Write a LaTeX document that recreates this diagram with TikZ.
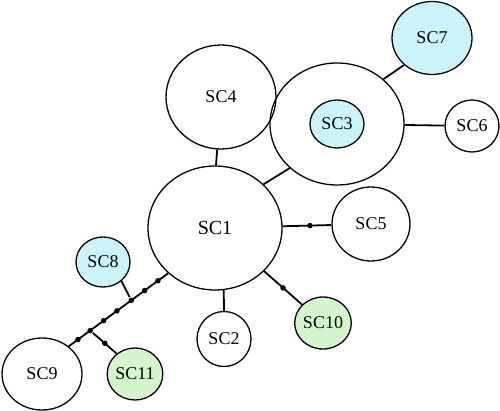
\documentclass[tikz,border=0pt]{standalone}
\usepackage{fontspec}
\setmainfont{Liberation Serif}
\usetikzlibrary{shapes.geometric}
\definecolor{lcyan}{RGB}{202,244,250}
\definecolor{lgreen}{RGB}{212,246,204}
\begin{document}
\begin{tikzpicture}[x=1pt,y=-1pt,
  blob/.style={ellipse,draw,line width=1.3pt,inner sep=0pt,font=\fontsize{18}{20}\selectfont},
  link/.style={line width=1.8pt},
  dot/.style={circle,fill,inner sep=0pt,minimum size=5.5pt}]
\useasboundingbox (0,0) rectangle (500,411);
\node[blob,minimum width=134pt,minimum height=124pt,font=\fontsize{20}{22}\selectfont] (sc1) at (215,228) {SC1};
\node[blob,minimum width=110pt,minimum height=104pt] (sc4) at (221,97) {SC4};
\node[blob,minimum width=134pt,minimum height=122pt] (sc3o) at (337,124) {};
\node[blob,fill=lcyan,minimum width=54pt,minimum height=48pt] (sc3) at (337,124) {SC3};
\node[blob,fill=lcyan,minimum width=80pt,minimum height=73pt] (sc7) at (432,38) {SC7};
\node[blob,minimum width=54pt,minimum height=52pt] (sc6) at (472,126) {SC6};
\node[blob,minimum width=78pt,minimum height=74pt] (sc5) at (371,224) {SC5};
\node[blob,minimum width=54pt,minimum height=55pt] (sc2) at (224,339) {SC2};
\node[blob,fill=lgreen,minimum width=54pt,minimum height=52pt] (sc10) at (323,323) {SC10};
\node[blob,fill=lcyan,minimum width=54pt,minimum height=50pt] (sc8) at (103,262) {SC8};
\node[blob,minimum width=80pt,minimum height=72pt] (sc9) at (42,374) {SC9};
\node[blob,fill=lgreen,minimum width=54pt,minimum height=52pt] (sc11) at (135,374) {SC11};
\draw[link] (sc1.north -| 216,0) -- (sc4);
\draw[link] (sc1.42) -- (sc3o.223);
\draw[link] (sc3o.44) -- (sc7.224);
\draw[link] (sc3o) -- (sc6);
\draw[link] (sc1) -- (sc5) node[dot,pos=0.56] (d5) {};
\draw[link] (sc1) -- (sc10) node[dot,pos=0.5] (d10) {};
\draw[link] (sc1.-82) -- (sc2.north);
\draw[link] (sc1.224) -- (sc9.46)
  node[dot,pos=0.103] (c1) {}
  node[dot,pos=0.237] (c2) {}
  node[dot,pos=0.371] (j1) {}
  node[dot,pos=0.515] (c3) {}
  node[dot,pos=0.649] (c4) {}
  node[dot,pos=0.784] (j2) {}
  node[dot,pos=0.907] (c5) {};
\draw[link] (sc8.-46) -- (j1);
\draw[link] (j2) -- (sc11.132) node[dot,pos=0.5] (d11) {};
\end{tikzpicture}
\end{document}
